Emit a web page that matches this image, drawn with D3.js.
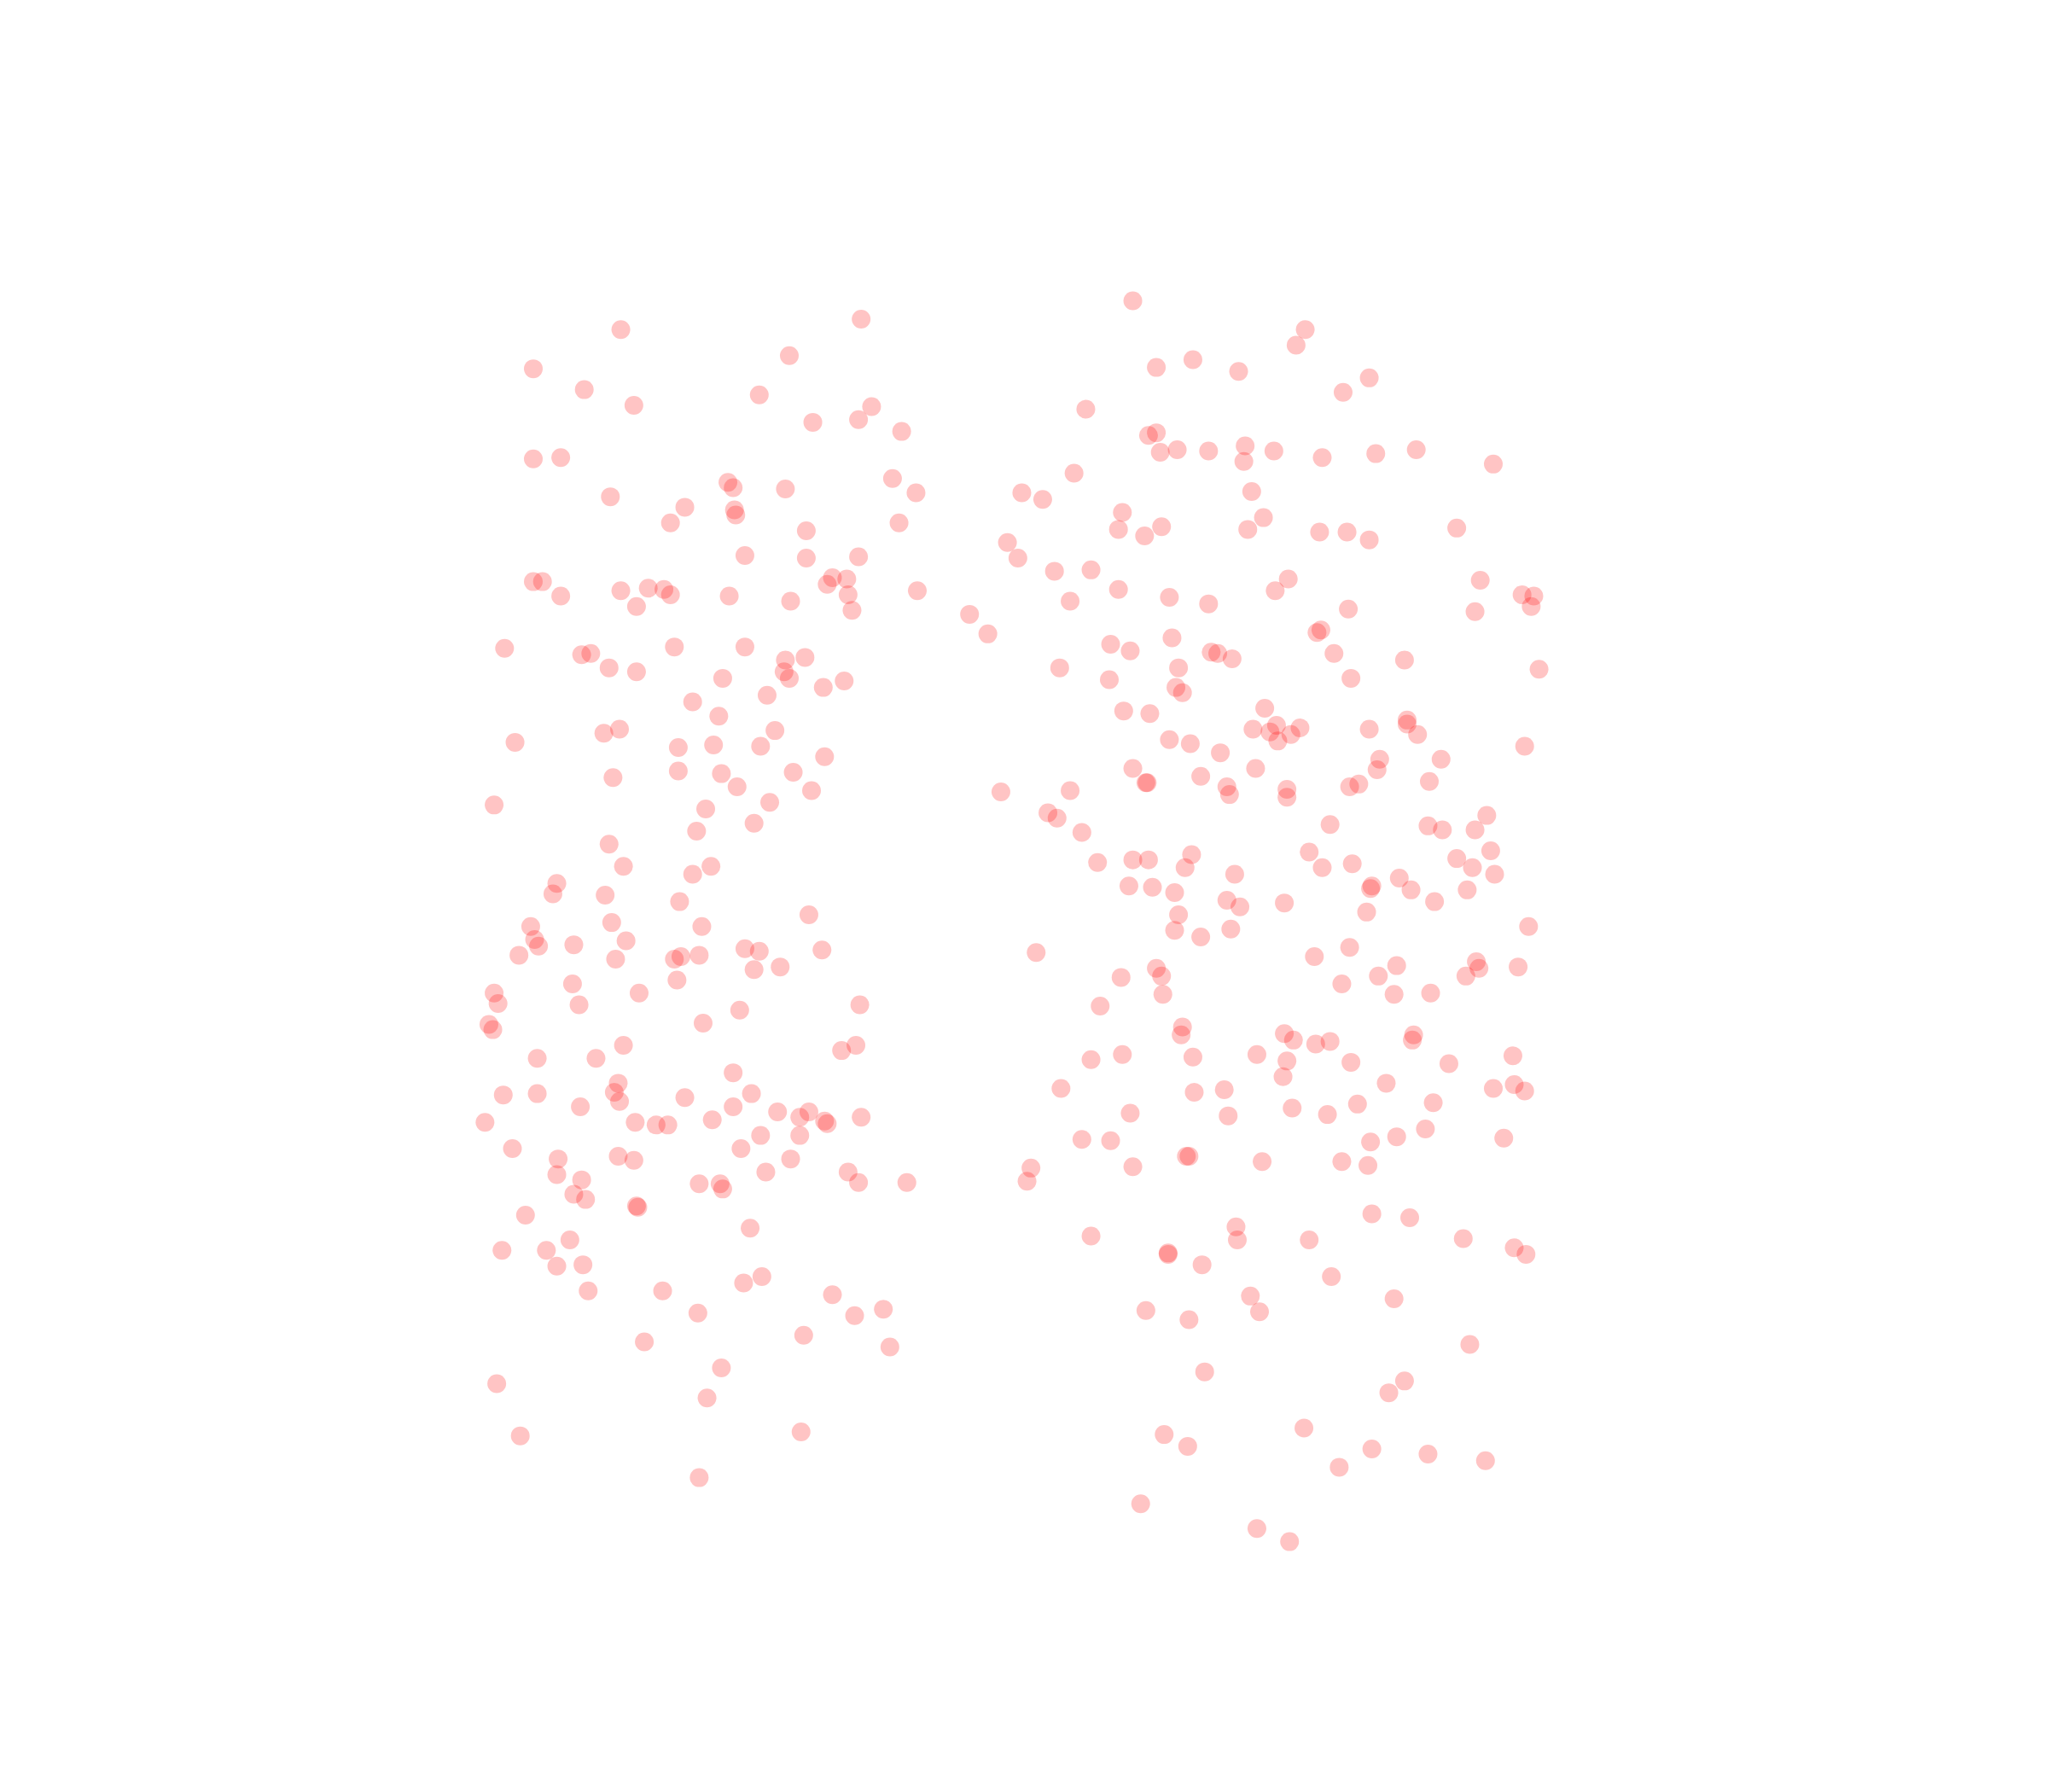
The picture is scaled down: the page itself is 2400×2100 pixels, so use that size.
<!DOCTYPE html>
<html>
<head>
<meta charset="utf-8">
<script src="https://cdn.jsdelivr.net/npm/d3@7"></script>
<style>
  html, body { margin: 0; padding: 0; background: #fff; }
  svg { display: block; }
</style>
</head>
<body>
<script>
// values, [x, y]
let leftGroup = [
  [475,252],[659,244],[604,272],[408,282],[447,298],[485,310],[581,302],[667,311],[657,321],[622,323],
  [690,330],[408,351],[429,350],[557,369],[561,373],[601,374],[683,366],[701,377],[467,380],[524,388],
  [513,400],[562,390],[563,394],[688,400],[617,406],[570,425],[617,427],[657,426],[408,445],[415,445],
  [475,452],[496,450],[508,451],[513,455],[429,456],[558,456],[637,442],[633,447],[648,443],[649,455],
  [702,452],[605,460],[487,464],[652,467],[386,496],[445,501],[452,500],[516,495],[570,495],[601,505],
  [616,503],[466,511],[487,514],[600,514],[604,519],[553,519],[630,526],[646,521],[587,532],[530,537],
  [550,548],[593,559],[462,561],[474,558],[394,568],[519,572],[546,570],[582,571],[631,579],[519,590],
  [552,592],[607,591],[469,595],[564,602],[621,605],[378,616],[589,614],[540,619],[577,630],[533,636],
  [466,646],[477,663],[530,669],[544,663],[426,676],[423,684],[463,685],[520,690],[619,700],[468,706],
  [537,709],[406,709],[409,719],[412,724],[479,720],[439,723],[397,731],[471,734],[516,734],[521,732],
  [535,731],[570,726],[581,728],[629,727],[577,742],[597,740],[438,753],[518,750],[378,760],[381,768],
  [489,760],[443,769],[566,773],[658,769],[374,784],[377,788],[538,783],[477,800],[655,800],[644,804],
  [411,810],[456,810],[561,821],[473,829],[470,836],[474,843],[385,838],[411,837],[524,840],[575,837],
  [444,847],[561,847],[595,851],[619,851],[612,855],[631,858],[633,860],[659,855],[371,859],[486,859],
  [502,861],[511,861],[545,857],[582,869],[612,869],[392,879],[567,879],[427,887],[473,885],[485,888],
  [605,887],[586,897],[649,897],[426,899],[445,903],[535,906],[551,906],[553,910],[657,905],[694,905],
  [439,914],[448,918],[487,923],[488,924],[402,930],[574,940],[436,949],[384,957],[418,957],[426,969],
  [446,968],[583,977],[569,982],[450,988],[507,988],[637,991],[534,1005],[654,1007],[676,1002],[615,1022],
  [493,1027],[681,1031],[552,1047],[380,1059],[541,1070],[398,1099],[613,1096],[535,1131]
];

let rightGroup = [
  [867,230],[999,252],[992,264],[885,281],[913,275],[948,284],[1048,289],[1028,300],[831,313],[879,333],
  [885,331],[888,346],[901,344],[925,345],[953,341],[952,353],[975,345],[1012,350],[1053,347],[1084,344],
  [1143,355],[822,362],[782,377],[798,382],[958,376],[859,392],[856,405],[876,410],[889,403],[955,405],
  [967,396],[1010,407],[1031,407],[1048,413],[1115,404],[771,415],[779,427],[807,437],[835,436],[856,451],
  [986,443],[976,452],[1133,444],[895,457],[925,462],[819,460],[1165,455],[1174,456],[1172,464],[1032,466],
  [1129,468],[742,470],[756,485],[1008,484],[1011,482],[897,488],[850,493],[865,498],[927,499],[932,500],
  [943,504],[1021,500],[1075,505],[811,511],[902,511],[1178,512],[849,520],[1034,519],[900,526],[905,530],
  [860,544],[880,546],[968,542],[1077,551],[1077,554],[959,558],[977,555],[972,560],[978,567],[988,562],
  [995,557],[1048,558],[1085,562],[895,566],[911,569],[1167,571],[934,576],[1056,581],[1103,581],[867,588],
  [961,588],[1054,589],[919,594],[877,599],[878,599],[1094,598],[766,606],[819,605],[939,602],[941,608],
  [985,604],[985,610],[1033,602],[1040,600],[802,622],[809,626],[1018,631],[1138,624],[1093,632],[1104,635],
  [1129,635],[828,637],[1002,652],[1141,651],[840,660],[867,658],[879,658],[912,654],[907,664],[1012,664],
  [1035,661],[1115,657],[1127,664],[945,669],[1144,669],[864,678],[882,679],[899,683],[1071,672],[1050,678],
  [1049,680],[1080,681],[1123,681],[939,689],[949,694],[983,691],[1098,690],[902,700],[1046,698],[899,712],
  [942,711],[919,717],[1170,709],[1033,725],[793,729],[1006,732],[885,741],[889,747],[858,748],[1069,739],
  [1055,747],[1027,753],[1130,736],[1132,741],[1162,740],[1122,747],[890,761],[1067,761],[1095,760],[842,770],
  [905,786],[904,792],[983,791],[990,796],[1007,799],[1018,797],[1082,792],[1081,796],[859,807],[913,809],
  [962,807],[985,812],[835,811],[1034,813],[1158,808],[1109,814],[982,824],[1061,829],[812,833],[914,836],
  [937,834],[1143,833],[1159,830],[1167,835],[1039,845],[1097,844],[865,852],[940,854],[989,848],[1016,853],
  [1091,864],[828,872],[850,873],[1069,870],[1049,874],[1151,871],[908,885],[910,885],[966,889],[1027,889],
  [1047,892],[867,893],[789,894],[786,904],[1050,929],[1079,932],[946,939],[835,946],[947,949],[1002,949],
  [1120,948],[1159,955],[1168,960],[894,959],[894,960],[920,968],[1019,977],[957,992],[1067,994],[877,1003],
  [964,1004],[910,1010],[1125,1029],[922,1050],[1075,1057],[1063,1066],[998,1093],[891,1098],[909,1107],[1050,1109],
  [1093,1113],[1025,1123],[1137,1118],[873,1151],[962,1170],[987,1180]
];

var width = 2400;
var height = 2100;

let xScale = d3.scaleLinear().domain([0, 1568]).range([0.5, width + 0.5]);
let yScale = d3.scaleLinear().domain([0, 1372]).range([0.5, height + 0.5]);

var svg = d3.select("body")
    .append("svg")
    .attr("width", width)
    .attr("height", height);

svg.append("g")
    .selectAll("circle")
    .data([...leftGroup, ...rightGroup])
    .enter()
    .append("circle")
    .attr("cx", d => xScale(d[0]))
    .attr("cy", d => yScale(d[1]))
    .attr("r", 11)
    .attr("fill", "#ff0000")
    .attr("fill-opacity", 0.23);
</script>
</body>
</html>
